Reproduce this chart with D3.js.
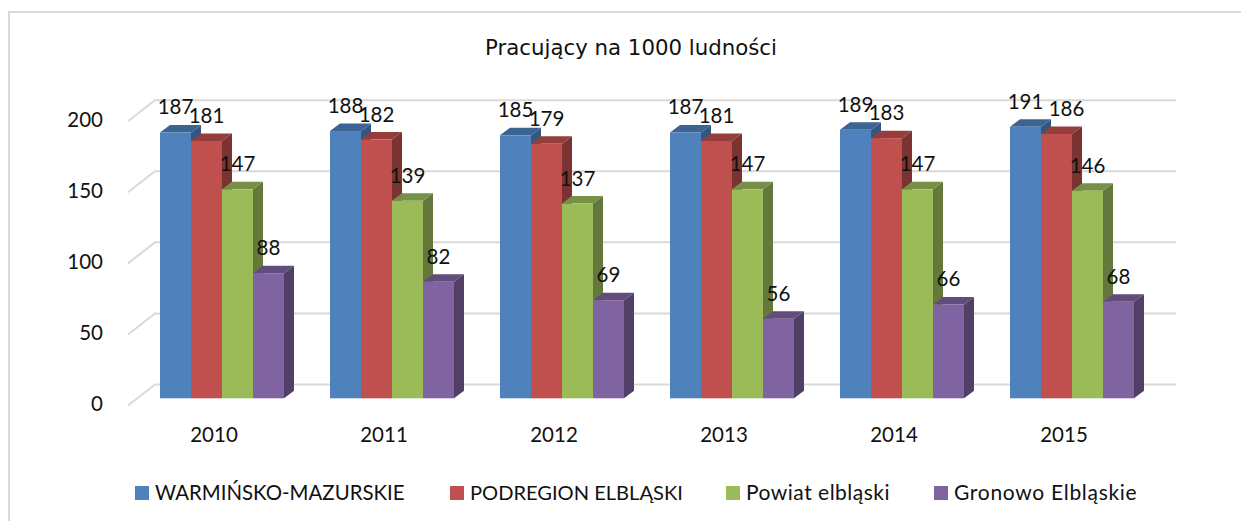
<!DOCTYPE html>
<html>
<head>
<meta charset="utf-8">
<script src="https://cdn.jsdelivr.net/npm/d3@7"></script>
<style>
body { margin: 0; background: #fff; }
text { font-family: Lato, sans-serif; fill: #111; }
</style>
</head>
<body>
<div id="chart"></div>
<script>
const years = ["2010", "2011", "2012", "2013", "2014", "2015"];
const seriesNames = ["WARMIŃSKO-MAZURSKIE", "PODREGION ELBLĄSKI", "Powiat elbląski", "Gronowo Elbląskie"];
const warminsko = [187, 188, 185, 187, 189, 191];
const podregion = [181, 182, 179, 181, 183, 186];
const powiat = [147, 139, 137, 147, 147, 146];
const gronowo = [88, 82, 69, 56, 66, 68];
const yTicks = [0, 50, 100, 150, 200];
const faceColors = ["#4f81bd", "#c0504d", "#9bbb59", "#8064a2"];
const topColors = ["#3c6493", "#943d3b", "#779048", "#614c7c"];
const sideColors = ["#345781", "#7a3331", "#64783b", "#513f67"];

const seriesValues = [warminsko, podregion, powiat, gronowo];

const width = 1241, height = 521;
const depthX = 10, depthY = 7.5;   // bar depth
const wallX = 27, wallY = 21;      // floor diagonal from front edge to back wall

const svg = d3.select("#chart").append("svg")
    .attr("width", width)
    .attr("height", height)
    .style("display", "block");

// frame only shows on the top and the left
svg.append("path")
    .attr("d", `M9,${height}L9,12L${width},12`)
    .attr("fill", "none")
    .attr("stroke", "#d9d9d9")
    .attr("stroke-width", 2);

svg.append("text")
    .attr("x", 631).attr("y", 55)
    .attr("text-anchor", "middle")
    .style("font-family", '"DejaVu Sans", sans-serif')
    .style("font-size", "21.3px")
    .text("Pracujący na 1000 ludności");

// y is the height on the front plane of the bars
const y = d3.scaleLinear().domain([0, 200]).range([398.3, 114]);
const x = d3.scaleBand().domain(years).range([137, 1157]);
const xInner = d3.scaleBand().domain(seriesNames).range([23, 147]);

// back wall gridlines with the diagonal at the left
const wallOffset = 398.3 - 384.5;
const grid = svg.append("g");
yTicks.forEach(t => {
    const gy = y(t) - wallOffset;
    grid.append("path")
        .attr("d", `M${155 - wallX},${gy + wallY}L155,${gy}L1176,${gy}`)
        .attr("fill", "none")
        .attr("stroke", "#d9d9d9")
        .attr("stroke-width", 2);
});

// y axis labels, no domain or tick marks
const yAxis = svg.append("g")
    .attr("transform", "translate(106,6)")
    .call(d3.axisLeft(y).tickValues(yTicks).tickSize(0));
yAxis.select(".domain").remove();
yAxis.selectAll("text").style("font-size", "20.5px");

// year labels sit on the front edge of the floor, left of the bar groups
const xAxis = svg.append("g")
    .attr("transform", "translate(-8,427)")
    .call(d3.axisBottom(x).tickSize(0));
xAxis.select(".domain").remove();
xAxis.selectAll("text").style("font-size", "20.5px").attr("dy", "0.71em").attr("y", 0);

const bars = svg.append("g");
years.forEach((year, yi) => {
    seriesNames.forEach((name, si) => {
        const value = seriesValues[si][yi];
        const x0 = x(year) + xInner(name);
        const w = xInner.bandwidth();
        const top = y(value), base = y(0);
        const g = bars.append("g");
        g.append("path")
            .attr("d", `M${x0 + w},${top}L${x0 + w + depthX},${top - depthY}L${x0 + w + depthX},${base - depthY}L${x0 + w},${base}Z`)
            .attr("fill", sideColors[si]);
        g.append("path")
            .attr("d", `M${x0},${top}L${x0 + depthX},${top - depthY}L${x0 + w + depthX},${top - depthY}L${x0 + w},${top}Z`)
            .attr("fill", topColors[si]);
        g.append("rect")
            .attr("x", x0).attr("y", top)
            .attr("width", w).attr("height", base - top)
            .attr("fill", faceColors[si]);
    });
});

// data labels go above everything
const labels = svg.append("g");
years.forEach((year, yi) => {
    seriesNames.forEach((name, si) => {
        const value = seriesValues[si][yi];
        // the 2015 red label was dragged to the right in the original
        const nudge = (year === "2015" && si === 1) ? 10 : 0;
        labels.append("text")
            .attr("x", x(year) + xInner(name) + xInner.bandwidth() / 2 + nudge)
            .attr("y", y(value) - 18)
            .attr("text-anchor", "middle")
            .style("font-size", "20.5px")
            .text(value);
    });
});

const legendX = [135, 450, 726, 934];
const legendSize = ["20.4px", "20.1px", "21px", "21px"];
const legendSpacing = ["0", "0", "0.5px", "0.7px"];
const legend = svg.append("g");
seriesNames.forEach((name, i) => {
    legend.append("rect")
        .attr("x", legendX[i]).attr("y", 486)
        .attr("width", 14).attr("height", 14)
        .attr("fill", faceColors[i]);
    legend.append("text")
        .attr("x", legendX[i] + 20).attr("y", 500)
        .style("font-size", legendSize[i])
        .style("letter-spacing", legendSpacing[i])
        .text(name);
});
</script>
</body>
</html>
